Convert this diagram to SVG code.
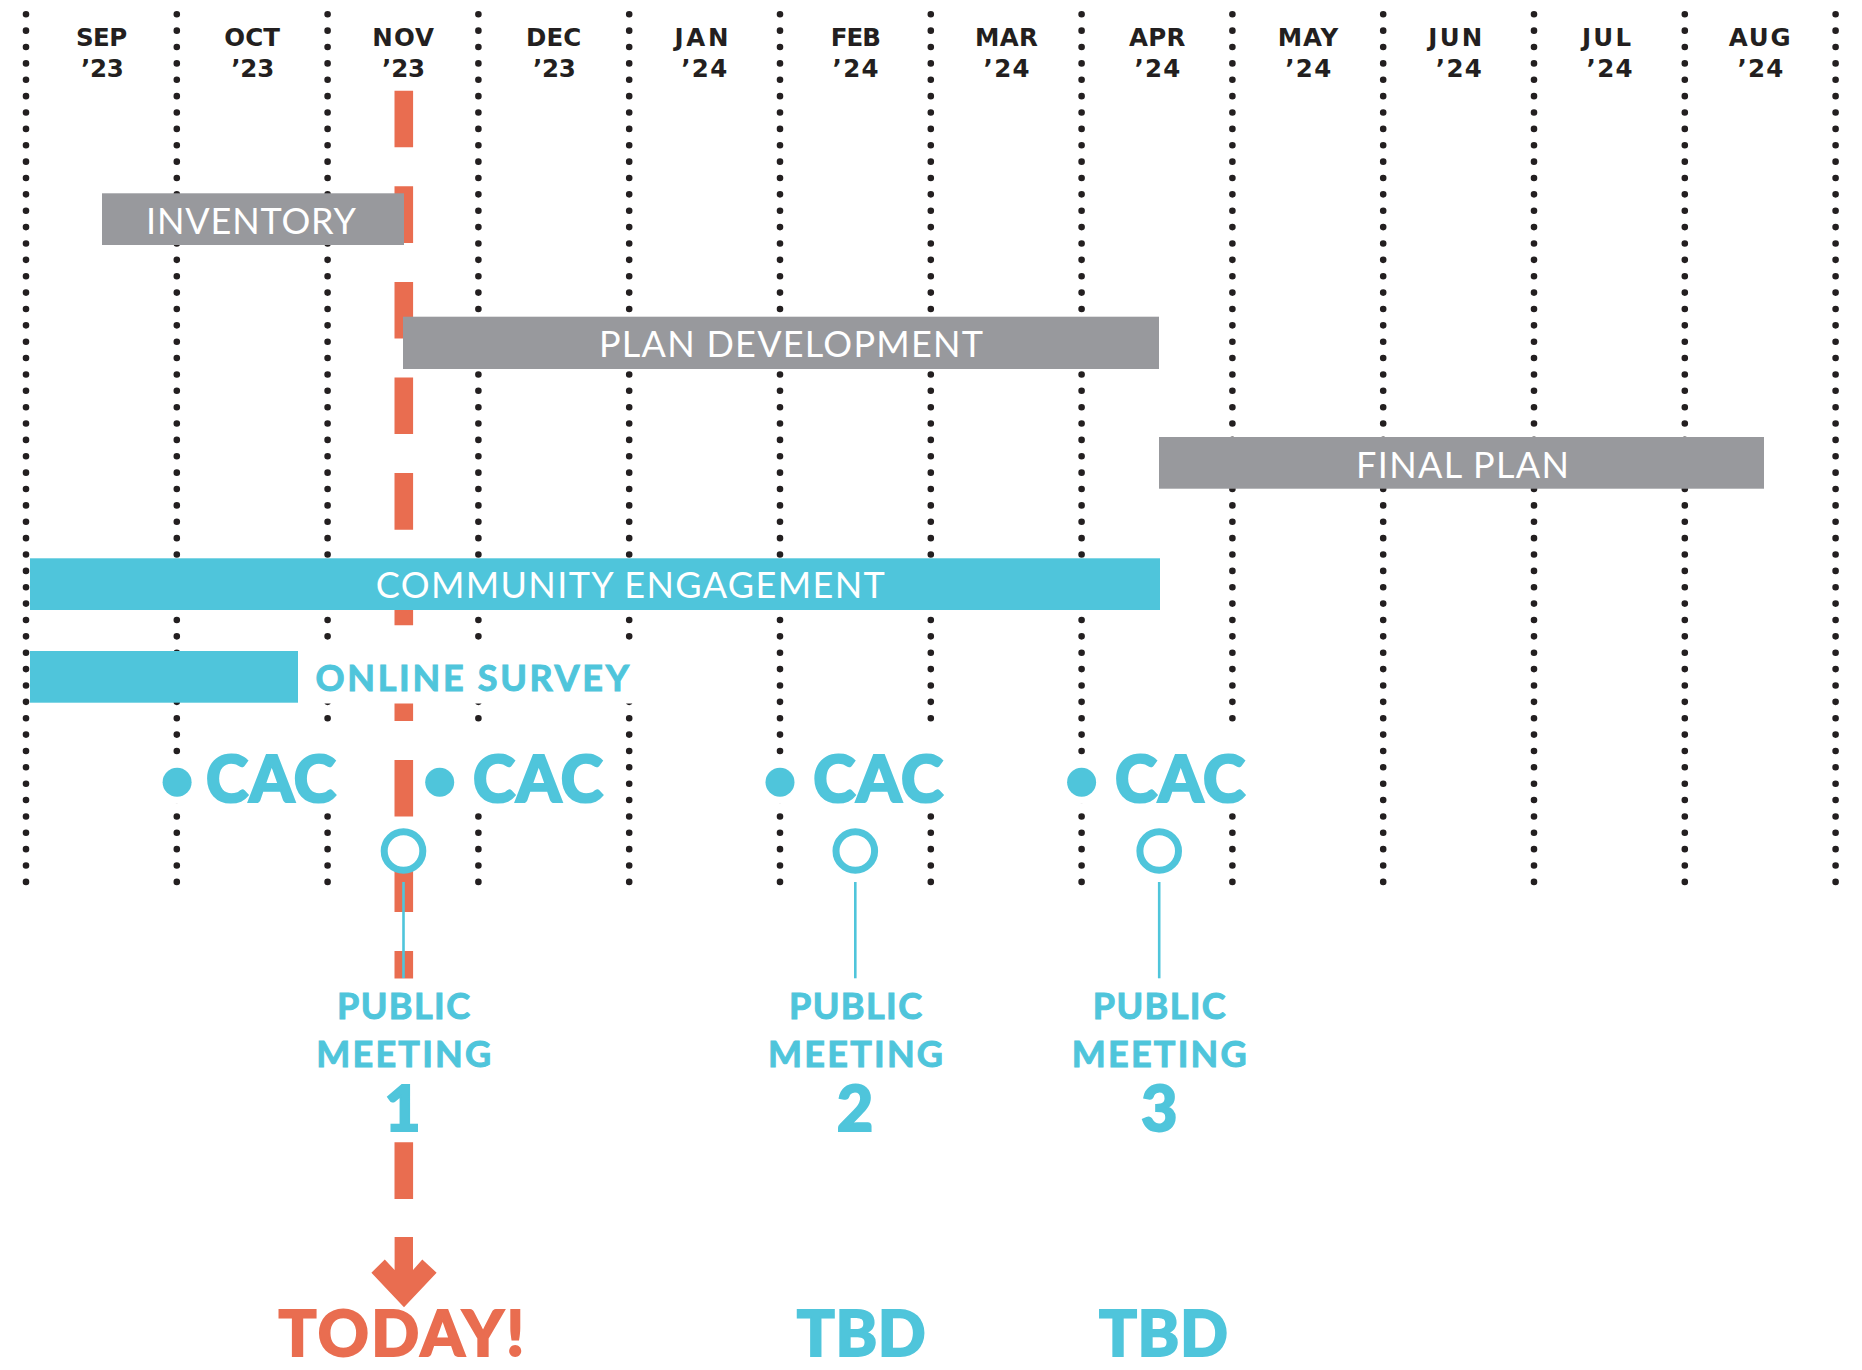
<svg xmlns="http://www.w3.org/2000/svg" width="1862" height="1370" viewBox="0 0 1862 1370">
<style>
.grid{stroke:#231f20;stroke-width:6.6;stroke-linecap:round;stroke-dasharray:0 16.37;fill:none}
.mon{font-family:"DejaVu Sans","Liberation Sans",sans-serif;font-weight:700;font-size:24.5px;fill:#231f20;text-anchor:middle}
.gray{fill:#98999d}
.cyan{fill:#4fc5db}
.blbl{font-family:Lato,"Liberation Sans",sans-serif;font-weight:400;font-size:36px;fill:#ffffff;text-anchor:middle}
.clbl{font-family:Lato,"Liberation Sans",sans-serif;font-weight:700;font-size:36px;fill:#4fc5db;stroke:#4fc5db;stroke-width:1}
.cac{font-family:Lato,"Liberation Sans",sans-serif;font-weight:900;font-size:64px;fill:#4fc5db;stroke:#4fc5db;stroke-width:2.2}
.big{font-family:Lato,"Liberation Sans",sans-serif;font-weight:900;font-size:63px;text-anchor:middle;stroke-width:1.8}
.wh{fill:#ffffff}
.ring{fill:#ffffff;stroke:#4fc5db;stroke-width:7}
.stem{stroke:#4fc5db;stroke-width:2.6}
</style>

<g id="grid">
<line class="grid" x1="26" y1="14.3" x2="26" y2="883"/>
<line class="grid" x1="176.8" y1="14.3" x2="176.8" y2="883"/>
<line class="grid" x1="327.6" y1="14.3" x2="327.6" y2="883"/>
<line class="grid" x1="478.4" y1="14.3" x2="478.4" y2="883"/>
<line class="grid" x1="629.2" y1="14.3" x2="629.2" y2="883"/>
<line class="grid" x1="780" y1="14.3" x2="780" y2="883"/>
<line class="grid" x1="930.8" y1="14.3" x2="930.8" y2="883"/>
<line class="grid" x1="1081.6" y1="14.3" x2="1081.6" y2="883"/>
<line class="grid" x1="1232.4" y1="14.3" x2="1232.4" y2="883"/>
<line class="grid" x1="1383.2" y1="14.3" x2="1383.2" y2="883"/>
<line class="grid" x1="1534" y1="14.3" x2="1534" y2="883"/>
<line class="grid" x1="1684.8" y1="14.3" x2="1684.8" y2="883"/>
<line class="grid" x1="1835.6" y1="14.3" x2="1835.6" y2="883"/>
</g>

<g id="months">
<text class="mon" x="101.6" y="46" textLength="51.4">SEP</text>
<text class="mon" x="102.4" y="77.3" textLength="43">’23</text>
<text class="mon" x="252.1" y="46" textLength="55.8">OCT</text>
<text class="mon" x="252.7" y="77.3" textLength="43">’23</text>
<text class="mon" x="403.2" y="46" textLength="61.7">NOV</text>
<text class="mon" x="403.6" y="77.3" textLength="43">’23</text>
<text class="mon" x="553.6" y="46" textLength="55.4">DEC</text>
<text class="mon" x="554.4" y="77.3" textLength="43">’23</text>
<text class="mon" x="701.5" y="46" textLength="54">JAN</text>
<text class="mon" x="704.2" y="77.3" textLength="46">’24</text>
<text class="mon" x="855.8" y="46" textLength="50.2">FEB</text>
<text class="mon" x="855.6" y="77.3" textLength="46">’24</text>
<text class="mon" x="1006.5" y="46" textLength="62.9">MAR</text>
<text class="mon" x="1006.6" y="77.3" textLength="46">’24</text>
<text class="mon" x="1157.2" y="46" textLength="56.5">APR</text>
<text class="mon" x="1157.4" y="77.3" textLength="46">’24</text>
<text class="mon" x="1308" y="46" textLength="60.7">MAY</text>
<text class="mon" x="1308.2" y="77.3" textLength="46">’24</text>
<text class="mon" x="1455.3" y="46" textLength="54">JUN</text>
<text class="mon" x="1458.8" y="77.3" textLength="46">’24</text>
<text class="mon" x="1606.5" y="46" textLength="49">JUL</text>
<text class="mon" x="1609.6" y="77.3" textLength="46">’24</text>
<text class="mon" x="1759.7" y="46" textLength="61.9">AUG</text>
<text class="mon" x="1760.4" y="77.3" textLength="46">’24</text>
</g>

<g id="connectors">
<line id="today-line" x1="403.8" y1="90.7" x2="403.8" y2="1199" stroke="#e96d50" stroke-width="18.6" stroke-dasharray="56.6 39"/>
</g>

<g id="inventory">
<rect class="gray" x="102" y="193.3" width="302" height="51.7"/>
<text class="blbl" x="251" y="234.3" textLength="210">INVENTORY</text>
</g>

<g id="plan-development">
<rect class="gray" x="403" y="316.7" width="756" height="52.3"/>
<text class="blbl" x="791" y="357.3" textLength="384">PLAN DEVELOPMENT</text>
</g>

<g id="final-plan">
<rect class="gray" x="1159" y="437" width="605" height="51.7"/>
<text class="blbl" x="1462.5" y="478.3" textLength="213">FINAL PLAN</text>
</g>

<g id="community-engagement">
<rect class="cyan" x="30" y="558.3" width="1130" height="51.7"/>
<text class="blbl" x="630.3" y="598.3" textLength="509">COMMUNITY ENGAGEMENT</text>
</g>

<g id="online-survey">
<rect class="cyan" x="30" y="651" width="268" height="51.7"/>
<rect class="wh" x="298" y="648.5" width="337" height="55"/>
<text class="clbl" x="315.5" y="691" textLength="313.5">ONLINE SURVEY</text>
</g>

<g id="cac-1">
<rect class="wh" x="198" y="731" width="142" height="77"/>
<circle class="wh" cx="177.1" cy="782.3" r="21.5"/>
<circle class="cyan" cx="177.1" cy="782.3" r="14.5"/>
<text class="cac" x="206" y="801.7" textLength="130">CAC</text>
</g>
<g id="cac-2">
<rect class="wh" x="465" y="731" width="142" height="77"/>
<circle class="cyan" cx="439.7" cy="782.3" r="14.5"/>
<text class="cac" x="473" y="801.7" textLength="130">CAC</text>
</g>
<g id="cac-3">
<rect class="wh" x="805" y="731" width="142" height="77"/>
<circle class="wh" cx="780" cy="782.3" r="21.5"/>
<circle class="cyan" cx="780" cy="782.3" r="14.5"/>
<text class="cac" x="813.3" y="801.7" textLength="130">CAC</text>
</g>
<g id="cac-4">
<rect class="wh" x="1107" y="731" width="142" height="77"/>
<circle class="wh" cx="1081.6" cy="782.3" r="21.5"/>
<circle class="cyan" cx="1081.6" cy="782.3" r="14.5"/>
<text class="cac" x="1115.1" y="801.7" textLength="130">CAC</text>
</g>

<g id="public-meeting-1">
<circle class="ring" cx="403.5" cy="851" r="19.3"/>
<line class="stem" x1="403.5" y1="882" x2="403.5" y2="978.3"/>
<rect class="wh" x="310" y="978.5" width="188" height="160"/>
<text class="clbl" x="403.5" y="1019" text-anchor="middle" textLength="133">PUBLIC</text>
<text class="clbl" x="403.7" y="1066.7" text-anchor="middle" textLength="175">MEETING</text>
<text class="big" x="402.5" y="1130.5" fill="#4fc5db" stroke="#4fc5db">1</text>
</g>

<g id="public-meeting-2">
<circle class="ring" cx="855.3" cy="851" r="19.3"/>
<line class="stem" x1="855.3" y1="882" x2="855.3" y2="978.3"/>
<text class="clbl" x="855.5" y="1019" text-anchor="middle" textLength="133">PUBLIC</text>
<text class="clbl" x="855.5" y="1066.7" text-anchor="middle" textLength="175">MEETING</text>
<text class="big" x="855" y="1130.5" fill="#4fc5db" stroke="#4fc5db">2</text>
</g>

<g id="public-meeting-3">
<circle class="ring" cx="1159.2" cy="851" r="19.3"/>
<line class="stem" x1="1159.2" y1="882" x2="1159.2" y2="978.3"/>
<text class="clbl" x="1159.2" y="1019" text-anchor="middle" textLength="133">PUBLIC</text>
<text class="clbl" x="1159.2" y="1066.7" text-anchor="middle" textLength="175">MEETING</text>
<text class="big" x="1159.2" y="1130.5" fill="#4fc5db" stroke="#4fc5db">3</text>
</g>

<g id="today">
<polygon fill="#e96d50" points="394.6,1237 413,1237 413,1270 422.3,1259.5 436.6,1272.7 404,1307.3 371.4,1272.7 384.8,1259.5 394.6,1270"/>
<text class="big" x="401.4" y="1356" fill="#e96d50" stroke="#e96d50" textLength="246">TODAY!</text>
</g>

<g id="tbd-2">
<text class="big" x="861.3" y="1356" fill="#4fc5db" stroke="#4fc5db" textLength="129">TBD</text>
</g>
<g id="tbd-3">
<text class="big" x="1163.4" y="1356" fill="#4fc5db" stroke="#4fc5db" textLength="129">TBD</text>
</g>
</svg>
